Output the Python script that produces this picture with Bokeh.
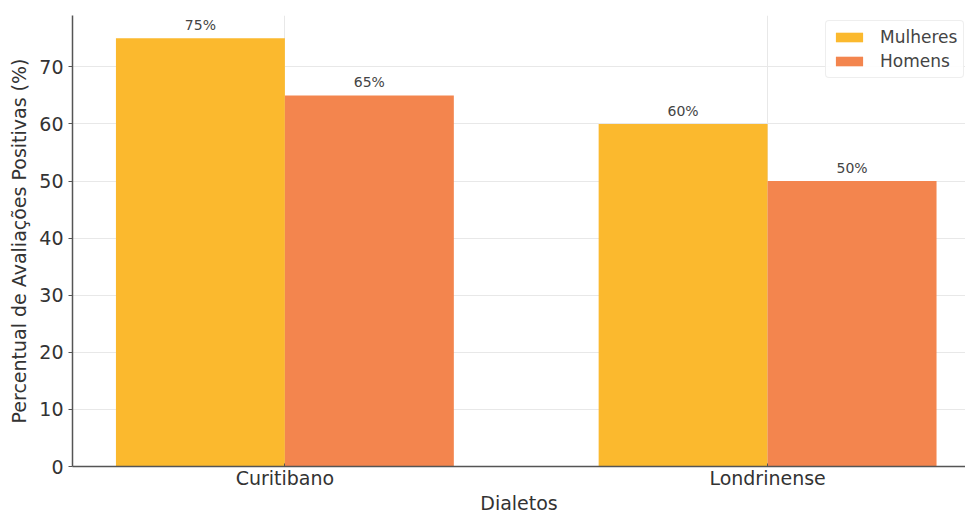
import numpy as np
from bokeh.plotting import figure
from bokeh.models import FixedTicker, Range1d, Legend, LegendItem, ColumnDataSource
from bokeh.embed import file_html
from bokeh.resources import INLINE
from bokeh.core.properties import value

categories = ["Curitibano", "Londrinense"]
mulheres = [75, 60]
homens = [65, 50]
y_ticks = [0, 10, 20, 30, 40, 50, 60, 70]

FONT = "DejaVu Sans"
C_M = "#FBB92E"
C_H = "#F3854E"
bw = 0.35

idx = np.arange(len(categories))

p = figure(width=965, height=516, output_backend="svg", toolbar_location=None,
           x_range=Range1d(-0.44, 1.41), y_range=Range1d(0, 79),
           min_border_left=72, min_border_right=0, min_border_top=15, min_border_bottom=48)
p.outline_line_color = None

src_m = ColumnDataSource(dict(x=idx - bw / 2, top=mulheres, lab=[f"{v}%" for v in mulheres]))
src_h = ColumnDataSource(dict(x=idx + bw / 2, top=homens, lab=[f"{v}%" for v in homens]))

rm = p.vbar(x="x", top="top", width=bw, source=src_m, fill_color=C_M, line_color=None)
rh = p.vbar(x="x", top="top", width=bw, source=src_h, fill_color=C_H, line_color=None)

for s in (src_m, src_h):
    p.text(x="x", y="top", text="lab", source=s, text_align="center", text_baseline="bottom",
           y_offset=-5, text_font=value(FONT), text_font_size="14px", text_color="#444444")

# axes
p.xaxis.ticker = FixedTicker(ticks=list(idx))
p.xaxis.major_label_overrides = {int(i): c for i, c in zip(idx, categories)}
p.yaxis.ticker = FixedTicker(ticks=y_ticks)
p.xaxis.axis_label = "Dialetos"
p.yaxis.axis_label = "Percentual de Avaliações Positivas (%)"
for ax in (p.xaxis[0], p.yaxis[0]):
    ax.axis_line_color = "#555555"
    ax.axis_line_width = 1.5
    ax.major_tick_line_color = "#555555"
    ax.minor_tick_line_color = None
    ax.major_label_text_font = FONT
    ax.major_label_text_font_size = "19px"
    ax.major_label_text_color = "#333333"
    ax.axis_label_text_font = FONT
    ax.axis_label_text_font_size = "19px"
    ax.axis_label_text_font_style = "normal"
    ax.axis_label_text_color = "#333333"
p.xaxis.major_tick_in = 3
p.xaxis.major_tick_out = 0
p.yaxis.major_tick_in = 0
p.yaxis.major_tick_out = 4
p.xaxis.major_label_standoff = 0
p.xaxis.axis_label_standoff = 0
p.yaxis.major_label_standoff = 5
p.yaxis.axis_label_standoff = 6

p.xgrid.ticker = FixedTicker(ticks=list(idx))
p.ygrid.ticker = FixedTicker(ticks=y_ticks)
p.grid.grid_line_color = "#e8e8e8"
p.grid.grid_line_width = 1

legend = Legend(items=[LegendItem(label="Mulheres", renderers=[rm]),
                       LegendItem(label="Homens", renderers=[rh])],
                location=(753, 388))
legend.label_text_font = FONT
legend.label_text_font_size = "17px"
legend.label_text_color = "#444444"
legend.glyph_width = 34
legend.glyph_height = 12
legend.spacing = 4
legend.padding = 6
legend.label_standoff = 14
legend.label_height = 18
legend.border_line_color = "#dddddd"
legend.border_radius = 4
legend.background_fill_alpha = 0.9
p.add_layout(legend)

open("out.html", "w").write(file_html(p, INLINE))
